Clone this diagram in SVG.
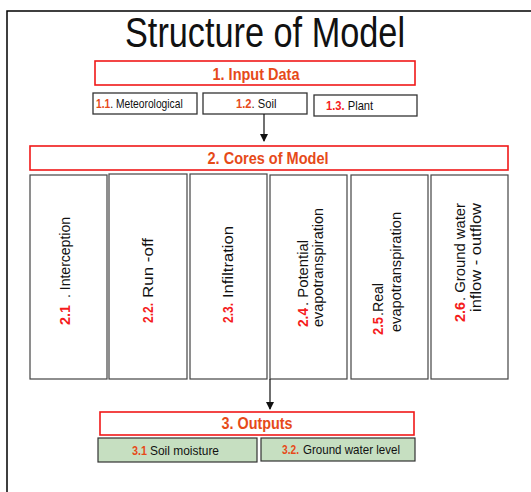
<svg xmlns="http://www.w3.org/2000/svg" width="531" height="492" viewBox="0 0 531 492">
<style>
text{font-family:"Liberation Sans",Arial,sans-serif;}
.frame{fill:none;stroke:#000;stroke-width:1.5;}
.red{fill:#fff;stroke:#f01818;stroke-width:1.6;}
.blk{fill:#fff;stroke:#333;stroke-width:1.3;}
.col{fill:#fff;stroke:#444;stroke-width:1.2;}
.grn{fill:#c6dfc1;stroke:#333;stroke-width:1.2;}
.hd{fill:#e64a19;font-weight:bold;font-size:17px;text-anchor:middle;}
.sm{font-size:13px;fill:#111;}
.on{font-size:13px;fill:#e64a19;font-weight:bold;}
.rs{font-size:13px;fill:#f51c1c;font-weight:bold;}
.rn{font-size:15.5px;fill:#f51c1c;font-weight:bold;}
.vt{font-size:15.5px;fill:#111;}
.conn{stroke:#111;stroke-width:1.2;fill:none;}
</style>
<defs>
<marker id="ah" markerWidth="8" markerHeight="10" refX="7" refY="4" orient="auto" markerUnits="userSpaceOnUse">
<path d="M0,0 L8,4 L0,8 Z" fill="#111"/>
</marker>
</defs>
<path class="frame" d="M7,492 V11 H531"/>
<text x="265" y="47" font-size="43" text-anchor="middle" fill="#111" textLength="280" lengthAdjust="spacingAndGlyphs">Structure of Model</text>

<g id="input">
<rect class="red" x="95" y="61" width="320" height="24"/>
<text class="hd" x="256" y="80" textLength="87" lengthAdjust="spacingAndGlyphs">1. Input Data</text>
</g>
<g id="meteo">
<rect class="blk" x="93" y="93" width="104" height="21"/>
<text class="sm" transform="translate(96,108) scale(0.79,1)"><tspan class="on">1.1</tspan>. Meteorological</text>
</g>
<g id="soil">
<rect class="blk" x="203" y="93" width="104" height="21"/>
<text class="sm" transform="translate(236,108) scale(0.86,1)"><tspan class="on">1.2</tspan>. Soil</text>
</g>
<g id="plant">
<rect class="blk" x="314" y="95" width="103" height="21"/>
<text class="sm" transform="translate(326,110) scale(0.86,1)"><tspan class="rs">1.3.</tspan> Plant</text>
</g>

<g id="cores">
<rect class="red" x="30" y="146" width="478" height="24"/>
<text class="hd" x="268" y="164" textLength="121" lengthAdjust="spacingAndGlyphs">2. Cores of Model</text>
</g>

<g id="c1">
<rect class="col" x="30" y="175" width="77" height="204"/>
<text class="rn" transform="translate(70,325) rotate(-90)" textLength="20" lengthAdjust="spacingAndGlyphs">2.1</text>
<text class="vt" transform="translate(70,298) rotate(-90)" textLength="81" lengthAdjust="spacingAndGlyphs">. Interception</text>
</g>
<g id="c2">
<rect class="col" x="109" y="174" width="78" height="205"/>
<text class="rn" transform="translate(153,323) rotate(-90)" textLength="20" lengthAdjust="spacingAndGlyphs">2.2.</text>
<text class="vt" transform="translate(153,298) rotate(-90)" textLength="60" lengthAdjust="spacingAndGlyphs">Run -off</text>
</g>
<g id="c3">
<rect class="col" x="190" y="174" width="77" height="205"/>
<text class="rn" transform="translate(233,323) rotate(-90)" textLength="20" lengthAdjust="spacingAndGlyphs">2.3.</text>
<text class="vt" transform="translate(233,298) rotate(-90)" textLength="72" lengthAdjust="spacingAndGlyphs">Infiltration</text>
</g>
<g id="c4">
<rect class="col" x="270" y="175" width="77" height="204"/>
<text class="rn" transform="translate(308,327) rotate(-90)" textLength="19" lengthAdjust="spacingAndGlyphs">2.4</text>
<text class="vt" transform="translate(308,306) rotate(-90)" textLength="66" lengthAdjust="spacingAndGlyphs">. Potential</text>
<text class="vt" transform="translate(323,327) rotate(-90)" textLength="119" lengthAdjust="spacingAndGlyphs">evapotranspiration</text>
</g>
<g id="c5">
<rect class="col" x="351" y="175" width="77" height="204"/>
<text class="rn" transform="translate(383,335) rotate(-90)" textLength="18" lengthAdjust="spacingAndGlyphs">2.5</text>
<text class="vt" transform="translate(383,316) rotate(-90)" textLength="33" lengthAdjust="spacingAndGlyphs">.Real</text>
<text class="vt" transform="translate(401,332) rotate(-90)" textLength="120" lengthAdjust="spacingAndGlyphs">evapotranspiration</text>
</g>
<g id="c6">
<rect class="col" x="431" y="175" width="77" height="204"/>
<text class="rn" transform="translate(465,322) rotate(-90)" textLength="20" lengthAdjust="spacingAndGlyphs">2.6</text>
<text class="vt" transform="translate(465,301) rotate(-90)" textLength="98" lengthAdjust="spacingAndGlyphs">. Ground water</text>
<text class="vt" transform="translate(481,312) rotate(-90)" textLength="109" lengthAdjust="spacingAndGlyphs">inflow  - outflow</text>
</g>

<g id="outputs">
<rect class="red" x="100" y="412" width="314" height="23"/>
<text class="hd" x="257" y="429" textLength="71" lengthAdjust="spacingAndGlyphs">3. Outputs</text>
</g>
<g id="o1">
<rect class="grn" x="98" y="438" width="159" height="24"/>
<text class="on" x="132" y="455" textLength="15" lengthAdjust="spacingAndGlyphs">3.1</text>
<text class="sm" x="150" y="455" textLength="69" lengthAdjust="spacingAndGlyphs">Soil moisture</text>
</g>
<g id="o2">
<rect class="grn" x="261" y="438" width="154" height="23"/>
<text class="on" x="282" y="454" textLength="17" lengthAdjust="spacingAndGlyphs">3.2.</text>
<text class="sm" x="303" y="454" textLength="97" lengthAdjust="spacingAndGlyphs">Ground water level</text>
</g>

<g id="connectors">
<line class="conn" x1="264" y1="114" x2="264" y2="141" marker-end="url(#ah)"/>
<line class="conn" x1="270" y1="379" x2="270" y2="409" marker-end="url(#ah)"/>
</g>
</svg>
